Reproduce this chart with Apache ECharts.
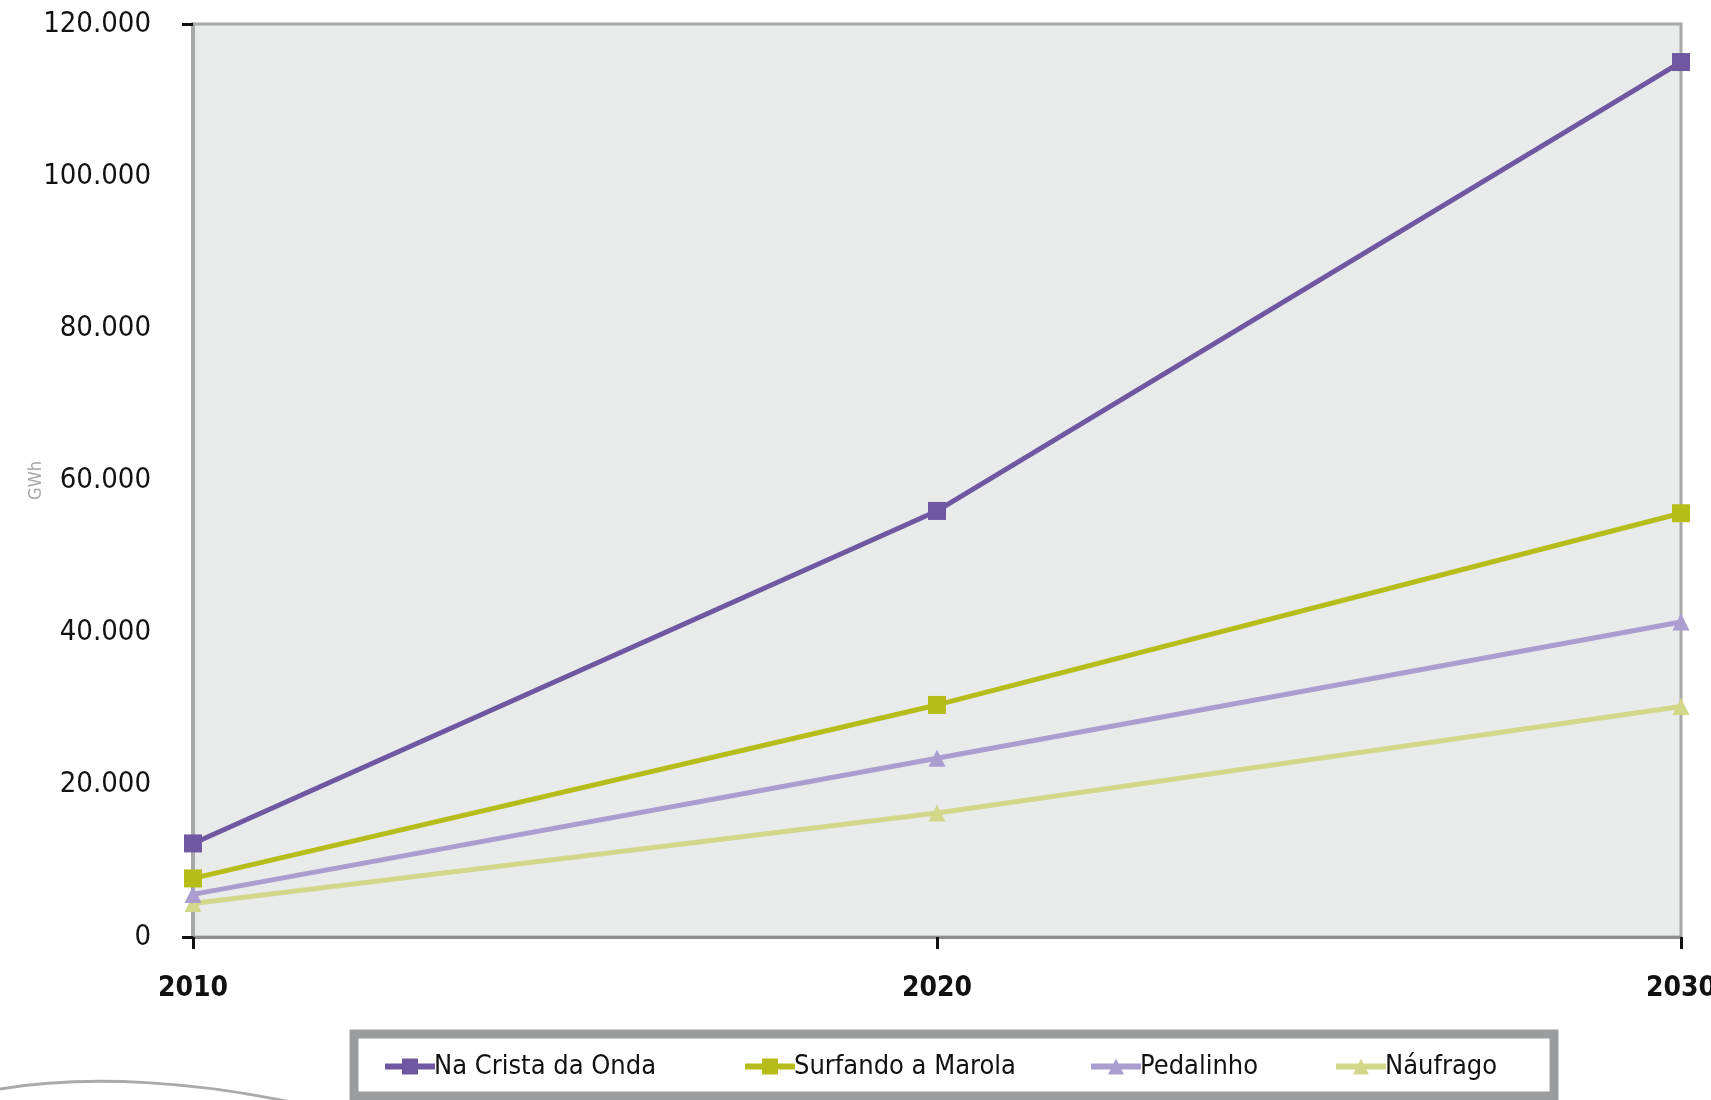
<!DOCTYPE html>
<html>
<head>
<meta charset="utf-8">
<script src="https://cdn.jsdelivr.net/npm/echarts@6/dist/echarts.min.js"></script>
<style>
  html, body { margin: 0; padding: 0; background: #fff; }
  #chart { width: 1711px; height: 1100px; }
</style>
</head>
<body>
<div id="chart"></div>
<script>
// anos e cenarios
var years = ['2010', '2020', '2030']
var naCrista = [12300, 56000, 115000]
var surfando = [7700, 30500, 55700]
var pedalinho = [5600, 23500, 41400]
var naufrago = [4400, 16300, 30300]
var names = ['Na Crista da Onda', 'Surfando a Marola', 'Pedalinho', 'Náufrago']

var font = '"Liberation Sans Narrow", "DejaVu Sans Condensed", sans-serif'

function fmt(v) {
    return String(v).replace(/\B(?=(\d{3})+(?!\d))/g, '.')
}

function line(name, data, color, symbol, size) {
    return {
        name: name,
        type: 'line',
        data: data,
        symbol: symbol,
        symbolSize: size,
        lineStyle: { color: color, width: 5 },
        itemStyle: { color: color },
        z: 3
    }
}

// one legend per item so each sits where it does in the original
var legendLeft = [377, 737, 1083, 1328]
var legends = names.map(function (n, i) {
    return {
        left: legendLeft[i], top: 1048,
        itemWidth: 50,
        itemHeight: 20,
        lineStyle: { width: 6 },
        textStyle: { fontFamily: font, fontSize: 27, color: '#111', padding: [0, 0, 0, -6] },
        data: [n]
    }
})

var dom = echarts.init(document.getElementById('chart'))
dom.setOption({
    animation: false,
    grid: {
        left: 193, right: 30, top: 24, bottom: 163,
        outerBoundsMode: 'none',
        containLabel: false,
        show: true,
        backgroundColor: '#e9ebeb',
        borderColor: '#a7a8aa',
        borderWidth: 3
    },
    xAxis: {
        type: 'category',
        data: years,
        boundaryGap: false,
        axisLine: { lineStyle: { color: '#8e8f91', width: 3 } },
        axisTick: { show: true, length: 12, lineStyle: { color: '#111', width: 3 } },
        axisLabel: {
            margin: 38, color: '#111', fontFamily: font,
            fontSize: 28, fontWeight: 'bold'
        }
    },
    yAxis: [{
        type: 'value',
        min: 0, max: 120000, interval: 20000,
        name: 'GWh',
        nameLocation: 'middle',
        nameGap: 148,
        nameMoveOverlap: false,
        nameTextStyle: { color: '#a8a8a8', fontSize: 18, fontFamily: font },
        splitLine: { show: false },
        axisLine: { show: true, lineStyle: { color: '#a7a8aa', width: 4 } },
        axisTick: { show: false },
        axisLabel: {
            margin: 42, color: '#111', fontFamily: font, fontSize: 29,
            formatter: fmt
        }
    }, {
        type: 'value',
        position: 'left',
        min: 0, max: 120000, interval: 120000,
        splitLine: { show: false },
        axisLine: { show: false },
        axisTick: { show: true, length: 11, lineStyle: { color: '#111', width: 3 } },
        axisLabel: { show: false }
    }],
    legend: legends,
    graphic: [{
        type: 'rect',
        shape: { x: 354, y: 1034, width: 1200, height: 62 },
        style: { fill: '#fff', stroke: '#9b9c9e', lineWidth: 9 },
        z: -1
    }, {
        type: 'bezierCurve',
        shape: { x1: 0, y1: 1089, cpx1: 90, cpy1: 1074, cpx2: 200, cpy2: 1082, x2: 300, y2: 1104 },
        style: { stroke: '#aaaaaa', lineWidth: 3, fill: null },
        z: -1
    }],
    series: [
        line('Náufrago', naufrago, '#d3d78a', 'triangle', 17),
        line('Pedalinho', pedalinho, '#aa9dd0', 'triangle', 17),
        line('Surfando a Marola', surfando, '#b6bd1b', 'rect', 18),
        line('Na Crista da Onda', naCrista, '#6f58a1', 'rect', 18)
    ]
})
</script>
</body>
</html>
